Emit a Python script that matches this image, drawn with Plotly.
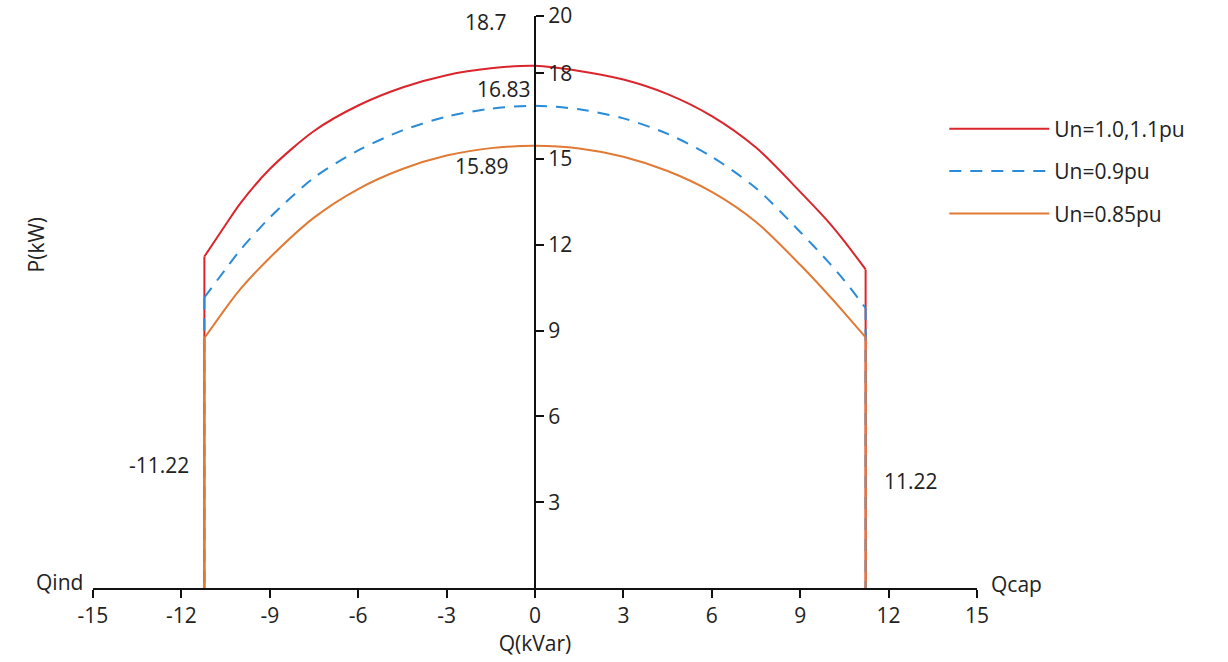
import plotly.graph_objects as go

# ---- data ----
q_limit = 11.22
q_values = [-11.22, -10.5, -10, -9, -7.5, -6, -4.5, -3, -1.5, 0, 1.5, 3, 4.5, 6, 7.5, 9, 10, 10.5, 11.22]
p_un_10_11 = [11.59, 12.70, 13.45, 14.65, 15.98, 16.87, 17.50, 17.93, 18.17, 18.26, 18.08, 17.78, 17.27, 16.50, 15.40, 13.85, 12.75, 12.12, 11.14]
p_un_09 = [10.16, 11.15, 11.82, 12.95, 14.35, 15.30, 16.00, 16.48, 16.76, 16.86, 16.74, 16.42, 15.88, 15.08, 13.98, 12.45, 11.35, 10.75, 9.79]
p_un_085 = [8.74, 9.78, 10.45, 11.55, 12.95, 13.95, 14.65, 15.12, 15.38, 15.46, 15.37, 15.08, 14.58, 13.85, 12.80, 11.30, 10.20, 9.62, 8.76]
series_names = ["Un=1.0,1.1pu", "Un=0.9pu", "Un=0.85pu"]
x_ticks = [-15, -12, -9, -6, -3, 0, 3, 6, 9, 12, 15]
x_tick_labels = ["-15", "-12", "-9", "-6", "-3", "0", "3", "6", "9", "12", "15"]
y_ticks = [3, 6, 9, 12, 15, 18, 20]
peak_labels = ["18.7", "16.83", "15.89"]
limit_labels = ["-11.22", "11.22"]

FONT = "Open Sans, Noto Sans, DejaVu Sans, sans-serif"
TXT = "#222"
colors = ["#d9252b", "#2a8bd8", "#e07a35"]
dashes = ["solid", "12px,9px", "solid"]

fig = go.Figure()
for name, vals, col, dash in zip(series_names, [p_un_10_11, p_un_09, p_un_085], colors, dashes):
    line = dict(color=col, width=2, dash=dash)
    # arc
    fig.add_trace(go.Scatter(
        x=q_values, y=vals, mode="lines", name=name,
        line=dict(color=col, width=2, dash=dash, shape="spline", smoothing=0.8),
        legendgroup=name,
    ))
    # vertical limits at -Qmax and +Qmax down to P = 0
    fig.add_trace(go.Scatter(
        x=[-q_limit, -q_limit, None, q_limit, q_limit],
        y=[vals[0], 0, None, vals[-1], 0],
        mode="lines", line=line, legendgroup=name, showlegend=False, hoverinfo="skip",
    ))

ann = [
    dict(x=-1.66, y=19.8, text=peak_labels[0]),
    dict(x=-1.05, y=17.45, text=peak_labels[1]),
    dict(x=-1.8, y=14.75, text=peak_labels[2]),
    dict(x=-12.75, y=4.3, text=limit_labels[0]),
    dict(x=12.75, y=3.75, text=limit_labels[1]),
]
annotations = []
for a in ann:
    annotations.append(dict(x=a["x"], y=a["y"], xref="x", yref="y", text=a["text"],
                            showarrow=False, font=dict(size=21, color=TXT, family=FONT)))
annotations.append(dict(x=-15, y=0.2, xref="x", yref="y", text="Qind", showarrow=False,
                        xanchor="right", xshift=-8, font=dict(size=21, color=TXT, family=FONT)))
annotations.append(dict(x=15, y=0.15, xref="x", yref="y", text="Qcap", showarrow=False,
                        xanchor="left", xshift=12, font=dict(size=21, color=TXT, family=FONT)))
annotations.append(dict(x=-0.083, y=12, xref="paper", yref="y", text="P(kW)", showarrow=False,
                        textangle=-90, font=dict(size=21, color=TXT, family=FONT)))

fig.update_layout(
    width=1228, height=662,
    margin=dict(l=93, r=251, t=16, b=74),
    paper_bgcolor="white", plot_bgcolor="white",
    font=dict(family=FONT, size=21, color=TXT),
    showlegend=True,
    legend=dict(x=0.963, y=0.838, xanchor="left", yanchor="top",
                font=dict(size=21, family=FONT, color=TXT),
                itemwidth=100, tracegroupgap=12, bgcolor="rgba(0,0,0,0)"),
    xaxis=dict(range=[-15, 15], tickvals=x_ticks, ticktext=x_tick_labels, showgrid=False,
               zeroline=False, automargin=False,
               showline=True, linecolor="#111", linewidth=2, ticks="outside", ticklen=8,
               tickwidth=2, tickcolor="#111", title=dict(text="Q(kVar)", standoff=8,
               font=dict(size=21, family=FONT)), fixedrange=True),
    yaxis=dict(range=[0, 20], tickvals=y_ticks, showgrid=False, zeroline=False, automargin=False,
               showline=True, linecolor="#111", linewidth=2, ticks="outside", ticklen=8,
               tickwidth=2, tickcolor="#111", side="right", anchor="free", position=0.5,
               fixedrange=True),
    annotations=annotations,
)

fig.write_html("out.html", config={"displayModeBar": False},
               post_script="document.body.style.margin='0';")
